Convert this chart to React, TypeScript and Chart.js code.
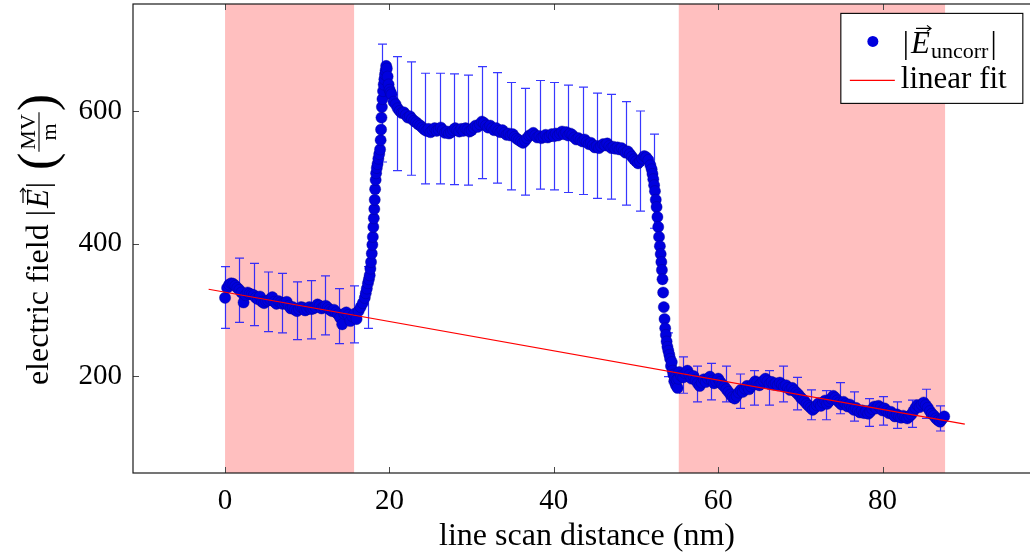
import React, { useEffect, useRef } from 'react';
import { Chart, registerables } from 'chart.js';

Chart.register(...registerables);

const FONT = "'Liberation Serif', 'Times New Roman', serif";

// ---- data (nm, MV/m) ----
const sampleStep = 0.25;
const leftStart = 0;
const leftY = [
  318, 333, 338, 340, 339, 336, 333, 330,
  326, 311, 322, 326, 324, 323, 322, 318,
  316, 320, 312, 310, 313, 314, 316, 319,
  312, 309, 313, 311, 309, 310, 312, 306,
  302, 304, 300, 298, 301, 304, 303, 299,
  301, 304, 301, 302, 304, 308, 306, 302,
  304, 306, 303, 300, 298, 300, 296, 293,
  288, 278, 294, 296, 292, 283, 290, 294,
  286, 298, 304, 310,
];
const riseX = [17.0, 17.12, 17.25, 17.38, 17.5, 17.6, 17.68, 17.76, 17.85, 17.92, 17.98, 18.04, 18.1, 18.16, 18.21, 18.26, 18.32, 18.38, 18.46, 18.55, 18.65, 18.76, 18.86, 18.93, 18.98, 19.03, 19.08, 19.15, 19.22, 19.3, 19.38, 19.46, 19.53, 19.6, 19.68, 19.78, 19.9, 20.02, 20.14];
const riseY = [318, 325, 332, 340, 346, 352, 362, 372, 385, 398, 410, 425, 438, 452, 466, 482, 496, 506, 514, 520, 528, 535, 542, 556, 572, 590, 606, 618, 630, 640, 648, 655, 661, 668, 664, 652, 640, 632, 628];
const highStart = 20.25;
const highY = [
  625, 614, 610, 604, 600, 597, 598, 594,
  590, 592, 588, 585, 583, 580, 578, 575,
  572, 570, 573, 568, 571, 574, 570, 572,
  575, 571, 567, 569, 566, 568, 571, 574,
  571, 569, 573, 570, 574, 572, 569, 571,
  575, 578, 576, 580, 584, 582, 578, 575,
  578, 574, 571, 574, 570, 568, 571, 567,
  564, 566, 563, 565, 561, 558, 556, 554,
  552, 555, 559, 563, 564, 567, 563, 560,
  562, 559, 561, 564, 560, 562, 565, 562,
  566, 563, 566, 569, 565, 568, 563, 566,
  564, 560, 557, 559, 556, 554, 557, 553,
  550, 552, 548, 545, 547, 544, 547, 550,
  548, 551, 547, 544, 546, 543, 545, 542,
  544, 540, 537, 539, 535, 531, 527, 524,
  521, 524, 528, 532, 530, 526, 518,
];
const fallX = [51.9, 52.0, 52.1, 52.2, 52.3, 52.4, 52.5, 52.6, 52.7, 52.8, 52.9, 53.0, 53.08, 53.15, 53.22, 53.3, 53.38, 53.47, 53.55, 53.63, 53.72, 53.82, 53.93, 54.05, 54.15, 54.25, 54.35, 54.45, 54.55, 54.65, 54.75, 54.85, 54.95, 55.05, 55.15];
const fallY = [512, 505, 497, 488, 479, 466, 455, 440, 425, 410, 396, 384, 372, 360, 346, 326, 304, 286, 272, 262, 252, 244, 238, 232, 226, 215, 221, 208, 202, 192, 198, 186, 194, 182, 196];
const rightStart = 55.25;
const rightY = [
  206, 200, 198, 204, 208, 202, 196, 200,
  194, 189, 185, 190, 195, 191, 196, 199,
  193, 189, 192, 196, 191, 187, 184, 180,
  176, 172, 168, 166, 170, 175, 179, 176,
  181, 185, 180, 184, 188, 192, 190, 186,
  189, 193, 196, 192, 188, 191, 187, 189,
  186, 190, 187, 184, 186, 182, 179, 182,
  178, 175, 172, 168, 165, 162, 158, 155,
  152, 149, 152, 156, 159, 155, 160, 163,
  158, 162, 166, 170, 167, 163, 160, 157,
  161, 158, 154, 157, 152, 149, 152, 148,
  145, 148, 144, 147, 143, 146, 150, 154,
  151, 155, 152, 148, 151, 147, 144, 146,
  142, 139, 142, 139, 137, 140, 138, 136,
  139, 142, 147, 152, 156, 153, 157, 160,
  156, 152, 147, 143, 140, 136, 133, 131,
  135, 139,
];
const errX = [0, 1.74, 3.48, 5.22, 6.96, 8.7, 10.44, 12.18, 13.92, 15.66, 17.4, 19.14, 20.88, 22.62, 24.36, 26.1, 27.84, 29.58, 31.32, 33.06, 34.8, 36.54, 38.28, 40.02, 41.76, 43.5, 45.24, 46.98, 48.72, 50.46, 52.2, 53.94, 55.68, 57.42, 59.16, 60.9, 62.64, 64.38, 66.12, 67.86, 69.6, 71.34, 73.08, 74.82, 76.56, 78.3, 80.04, 81.78, 83.52, 85.26, 87.0];
const errCenter = [318.5, 329.5, 323, 312, 310, 298.5, 300, 306.5, 290.5, 293, 318.5, 612, 596, 588.5, 573.5, 573.5, 572.5, 571, 582.5, 574.5, 562, 553.5, 564, 562, 558, 555, 547.5, 546, 536, 524.5, 494, 232, 201.5, 188, 191.5, 188, 177, 182, 182, 188, 173.5, 156.5, 156, 166.5, 154, 145, 147.5, 141, 143, 158, 136];
const errHalf = [46.5, 48.5, 47, 45, 45, 43.5, 44, 44.5, 41.5, 43, 46.5, 89, 86, 85.5, 83.5, 83.5, 83.5, 83, 84.5, 83.5, 81, 80.5, 82, 81, 81, 81, 79.5, 79, 78, 75.5, 71, 33, 27.5, 27, 27.5, 27, 26, 26, 26, 27, 24.5, 22.5, 22, 23.5, 22, 21, 21.5, 20, 20.5, 22, 19];
const fitX = [-2, 90];
const fitY = [331, 127.5];
const shadedStart = [0, 55.2];
const shadedEnd = [15.7, 87.6];
const xTicks = [0, 20, 40, 60, 80];
const yTicks = [200, 400, 600];
const xRange = [-11.2, 99.27];
const yRange = [53.6, 761.5];

const SHADE = 'rgb(255,191,191)';
const DOT = 'rgb(0,0,222)';
const ERRC = 'rgba(20,20,255,0.85)';
const TXT = 31;
const CANVAS_W = 1042;
const CANVAS_H = 554;

function buildPoints() {
  const pts: { x: number; y: number }[] = [];
  leftY.forEach((v, i) => pts.push({ x: leftStart + i * sampleStep, y: v }));
  riseX.forEach((v, i) => pts.push({ x: v, y: riseY[i] }));
  highY.forEach((v, i) => pts.push({ x: highStart + i * sampleStep, y: v }));
  fallX.forEach((v, i) => pts.push({ x: v, y: fallY[i] }));
  rightY.forEach((v, i) => pts.push({ x: rightStart + i * sampleStep, y: v }));
  return pts;
}

function drawAbsE(ctx: CanvasRenderingContext2D, x: number, base: number, sub: string | null) {
  ctx.textBaseline = 'alphabetic';
  ctx.textAlign = 'left';
  ctx.font = `${TXT}px ${FONT}`;
  ctx.fillText('|', x, base);
  x += ctx.measureText('|').width + 2;
  ctx.font = `italic ${TXT}px ${FONT}`;
  ctx.fillText('E', x, base);
  const wE = ctx.measureText('E').width;
  const ay = base - 25;
  const ax0 = x + 5, ax1 = x + wE + 1;
  ctx.save();
  ctx.lineWidth = 1.2;
  ctx.beginPath();
  ctx.moveTo(ax0, ay);
  ctx.lineTo(ax1, ay);
  ctx.moveTo(ax1 - 4, ay - 3);
  ctx.lineTo(ax1, ay);
  ctx.lineTo(ax1 - 4, ay + 3);
  ctx.stroke();
  ctx.restore();
  x += wE + 1;
  if (sub) {
    ctx.font = `22px ${FONT}`;
    ctx.fillText(sub, x, base + 5);
    x += ctx.measureText(sub).width + 2;
  }
  ctx.font = `${TXT}px ${FONT}`;
  ctx.fillText('|', x, base);
  x += ctx.measureText('|').width;
  return x;
}

const paperPlugin = {
  id: 'paper',
  beforeDatasetsDraw(chart: any) {
    const { ctx, chartArea: a, scales } = chart;
    const x = scales.x, y = scales.y;
    ctx.save();
    ctx.fillStyle = SHADE;
    shadedStart.forEach((s, i) => {
      const x0 = x.getPixelForValue(s);
      const x1 = x.getPixelForValue(shadedEnd[i]);
      ctx.fillRect(x0, a.top, x1 - x0, a.bottom - a.top);
    });
    ctx.strokeStyle = ERRC;
    ctx.lineWidth = 1.2;
    errX.forEach((ex, i) => {
      const px = Math.round(x.getPixelForValue(ex)) + 0.5;
      const top = y.getPixelForValue(errCenter[i] + errHalf[i]);
      const bot = y.getPixelForValue(errCenter[i] - errHalf[i]);
      ctx.beginPath();
      ctx.moveTo(px, top);
      ctx.lineTo(px, bot);
      ctx.moveTo(px - 4.5, top);
      ctx.lineTo(px + 4.5, top);
      ctx.moveTo(px - 4.5, bot);
      ctx.lineTo(px + 4.5, bot);
      ctx.stroke();
    });
    ctx.restore();
  },
  afterDatasetsDraw(chart: any) {
    const { ctx, chartArea: a, scales } = chart;
    const x = scales.x, y = scales.y;
    ctx.save();
    ctx.strokeStyle = '#4a4a4a';
    ctx.lineWidth = 1;
    ctx.beginPath();
    xTicks.forEach((t) => {
      const px = Math.round(x.getPixelForValue(t)) + 0.5;
      ctx.moveTo(px, a.bottom);
      ctx.lineTo(px, a.bottom - 6);
      ctx.moveTo(px, a.top);
      ctx.lineTo(px, a.top + 6);
    });
    yTicks.forEach((t) => {
      const py = Math.round(y.getPixelForValue(t)) + 0.5;
      ctx.moveTo(a.left, py);
      ctx.lineTo(a.left + 6, py);
      ctx.moveTo(a.right, py);
      ctx.lineTo(a.right - 6, py);
    });
    ctx.stroke();
    ctx.strokeStyle = '#1a1a1a';
    ctx.lineWidth = 1.2;
    ctx.strokeRect(a.left, a.top, a.right - a.left, a.bottom - a.top);

    // legend
    const w = a.right - a.left, h = a.bottom - a.top;
    const lr = a.right - 0.02 * w;
    const lt = a.top + 0.02 * h;
    const lw = 182, lh = 90;
    const ll = lr - lw;
    ctx.fillStyle = '#ffffff';
    ctx.fillRect(ll, lt, lw, lh);
    ctx.strokeStyle = '#000';
    ctx.lineWidth = 1.1;
    ctx.strokeRect(ll, lt, lw, lh);
    ctx.fillStyle = DOT;
    ctx.beginPath();
    ctx.arc(ll + 32, lt + 28, 5.5, 0, Math.PI * 2);
    ctx.fill();
    ctx.fillStyle = '#000';
    ctx.strokeStyle = '#000';
    drawAbsE(ctx, ll + 62, lt + 40, 'uncorr');
    ctx.strokeStyle = '#ff0000';
    ctx.lineWidth = 1.2;
    ctx.beginPath();
    ctx.moveTo(ll + 9, lt + 67);
    ctx.lineTo(ll + 54, lt + 67);
    ctx.stroke();
    ctx.fillStyle = '#000';
    ctx.font = `${TXT}px ${FONT}`;
    ctx.textAlign = 'left';
    ctx.textBaseline = 'alphabetic';
    ctx.fillText('linear fit', ll + 60, lt + 75);
    ctx.restore();
  },
  afterDraw(chart: any) {
    const { ctx, chartArea: a } = chart;
    ctx.save();
    ctx.fillStyle = '#000';
    ctx.strokeStyle = '#000';
    ctx.font = `${TXT + 1}px ${FONT}`;
    ctx.textAlign = 'center';
    ctx.textBaseline = 'alphabetic';
    ctx.fillText('line scan distance (nm)', (a.left + a.right) / 2, 545);

    // y title (rotated)
    const cy = (a.top + a.bottom) / 2;
    ctx.translate(48, cy);
    ctx.rotate(-Math.PI / 2);
    ctx.textAlign = 'left';
    ctx.font = `${TXT + 1}px ${FONT}`;
    const part1 = 'electric field ';
    const w1 = ctx.measureText(part1).width;
    ctx.font = `italic ${TXT}px ${FONT}`;
    const wE = ctx.measureText('E').width;
    ctx.font = `${TXT}px ${FONT}`;
    const wBar = ctx.measureText('|').width;
    const wAbs = wBar * 2 + wE + 5;
    ctx.font = `52px ${FONT}`;
    const wPar = ctx.measureText('(').width;
    ctx.font = `22px ${FONT}`;
    const wFrac = Math.max(ctx.measureText('MV').width, ctx.measureText('m').width) + 6;
    const gap = 12;
    const total = w1 + wAbs + gap + wPar * 2 + wFrac;
    let px = -total / 2;
    ctx.font = `${TXT + 1}px ${FONT}`;
    ctx.fillText(part1, px, 0);
    px += w1;
    px = drawAbsE(ctx, px, 0, null) + gap;
    ctx.font = `52px ${FONT}`;
    ctx.fillText('(', px, 6);
    px += wPar;
    const axisY = -9;
    ctx.font = `22px ${FONT}`;
    ctx.textAlign = 'center';
    ctx.fillText('MV', px + wFrac / 2, axisY - 4);
    ctx.fillText('m', px + wFrac / 2, axisY + 17);
    ctx.lineWidth = 1.1;
    ctx.beginPath();
    ctx.moveTo(px + 1, axisY);
    ctx.lineTo(px + wFrac - 1, axisY);
    ctx.stroke();
    px += wFrac;
    ctx.textAlign = 'left';
    ctx.font = `52px ${FONT}`;
    ctx.fillText(')', px, 6);
    ctx.restore();
  },
};

export default function App() {
  const ref = useRef<HTMLCanvasElement>(null);
  useEffect(() => {
    document.documentElement.style.overflow = 'hidden';
    document.body.style.margin = '0';
    document.body.style.overflow = 'hidden';
    const canvas = ref.current!;
    const points = buildPoints();
    const fit = fitX.map((v, i) => ({ x: v, y: fitY[i] }));
    const chart = new Chart(canvas, {
      type: 'scatter',
      data: {
        datasets: [
          {
            type: 'line',
            label: 'linear fit',
            data: fit,
            borderColor: '#ff0000',
            borderWidth: 1.2,
            pointRadius: 0,
            order: 0,
          } as any,
          {
            label: '|E uncorr|',
            data: points,
            pointRadius: 5.6,
            pointBackgroundColor: DOT,
            pointBorderColor: 'rgba(0,0,140,0.55)',
            pointBorderWidth: 0.7,
            order: 1,
          },
        ],
      },
      options: {
        animation: false,
        responsive: false,
        maintainAspectRatio: false,
        layout: { autoPadding: false, padding: { top: 4, right: 1, left: 0, bottom: 0 } },
        scales: {
          x: {
            type: 'linear',
            min: xRange[0],
            max: xRange[1],
            grid: { display: false, drawTicks: false },
            border: { display: false },
            afterBuildTicks: (s: any) => {
              s.ticks = xTicks.map((v) => ({ value: v }));
            },
            afterFit: (s: any) => {
              s.height = 81;
              s.paddingLeft = 0;
              s.paddingRight = 0;
              s.paddingTop = 0;
              s.paddingBottom = 0;
            },
            ticks: {
              font: { family: FONT, size: 29 },
              color: '#000',
              padding: 11,
              maxRotation: 0,
              autoSkip: false,
            },
          },
          y: {
            type: 'linear',
            min: yRange[0],
            max: yRange[1],
            grid: { display: false, drawTicks: false },
            border: { display: false },
            afterBuildTicks: (s: any) => {
              s.ticks = yTicks.map((v) => ({ value: v }));
            },
            afterFit: (s: any) => {
              s.width = 133;
              s.paddingLeft = 0;
              s.paddingRight = 0;
              s.paddingTop = 0;
              s.paddingBottom = 0;
            },
            ticks: {
              font: { family: FONT, size: 29 },
              color: '#000',
              padding: 11,
              autoSkip: false,
            },
          },
        },
        plugins: {
          legend: { display: false },
          tooltip: { enabled: false },
        },
      } as any,
      plugins: [paperPlugin],
    });
    return () => chart.destroy();
  }, []);
  return (
    <div style={{ width: CANVAS_W, height: CANVAS_H }}>
      <canvas
        ref={ref}
        width={CANVAS_W}
        height={CANVAS_H}
        style={{ display: 'block', width: CANVAS_W, height: CANVAS_H }}
      />
    </div>
  );
}
